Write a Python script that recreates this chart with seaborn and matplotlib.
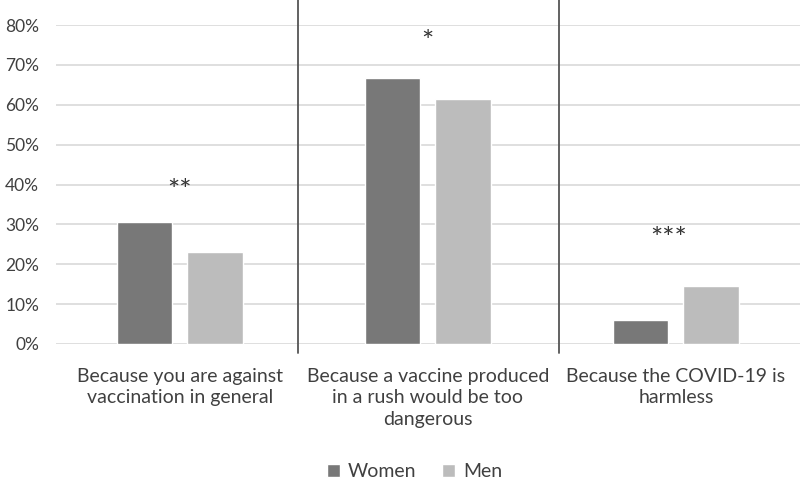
import matplotlib
matplotlib.use("Agg")
import matplotlib.pyplot as plt
import seaborn as sns
import pandas as pd

categories = ["Because you are against\nvaccination in general",
              "Because a vaccine produced\nin a rush would be too\ndangerous",
              "Because the COVID-19 is\nharmless"]
women = [0.306, 0.668, 0.061]
men = [0.231, 0.615, 0.146]
significance = ["**", "*", "***"]
sig_y = [0.38, 0.755, 0.26]
yticks = [0, 0.1, 0.2, 0.3, 0.4, 0.5, 0.6, 0.7, 0.8]
ytick_labels = ["0%", "10%", "20%", "30%", "40%", "50%", "60%", "70%", "80%"]

df = pd.DataFrame({
    "category": categories * 2,
    "value": women + men,
    "sex": ["Women"] * 3 + ["Men"] * 3,
})

sns.set_theme(style="white")
plt.rcParams["font.family"] = ["Lato", "DejaVu Sans"]
text_color = "#404040"

fig = plt.figure(figsize=(8, 4.83), dpi=100)
ax = fig.add_axes([0.0698, 0.288, 0.930, 0.660])

sns.barplot(data=df, x="category", y="value", hue="sex",
            palette={"Women": "#787878", "Men": "#bcbcbc"},
            width=0.567, gap=0.213, saturation=1, ax=ax, zorder=3)

ax.set_xlim(-0.5, 2.5)
ax.set_ylim(0, 0.8)
ax.set_yticks(yticks)
ax.set_yticklabels(ytick_labels)
ax.yaxis.grid(True, color="#d9d9d9", linewidth=1.2, zorder=0)
ax.set_axisbelow(True)
for s in ax.spines.values():
    s.set_visible(False)
ax.set_xlabel("")
ax.set_ylabel("")
ax.tick_params(axis="y", length=0, pad=12, labelsize=12.5, labelcolor=text_color)
ax.tick_params(axis="x", length=0, pad=17, labelsize=14, labelcolor=text_color)
for lab in ax.get_xticklabels():
    lab.set_linespacing(1.35)
    lab.set_va("top")

# separators
for xs in [0.477, 1.529]:
    ax.plot([xs, xs], [-0.022, 0.87], color="#555555", linewidth=1.3,
            clip_on=False, zorder=4)

# significance markers
sig_x = [0.0, 0.0, -0.03]
for i, (s, y) in enumerate(zip(significance, sig_y)):
    ax.text(i + sig_x[i], y, s, ha="center", va="center", fontsize=21,
            color="#333333")

leg = ax.legend(loc="upper center", bbox_to_anchor=(0.482, -0.32), ncol=2,
                frameon=False, fontsize=14, handlelength=0.7, handleheight=0.7,
                handletextpad=0.4, columnspacing=1.3)
for t in leg.get_texts():
    t.set_color(text_color)

fig.savefig("out.png", dpi=100, facecolor="white")
